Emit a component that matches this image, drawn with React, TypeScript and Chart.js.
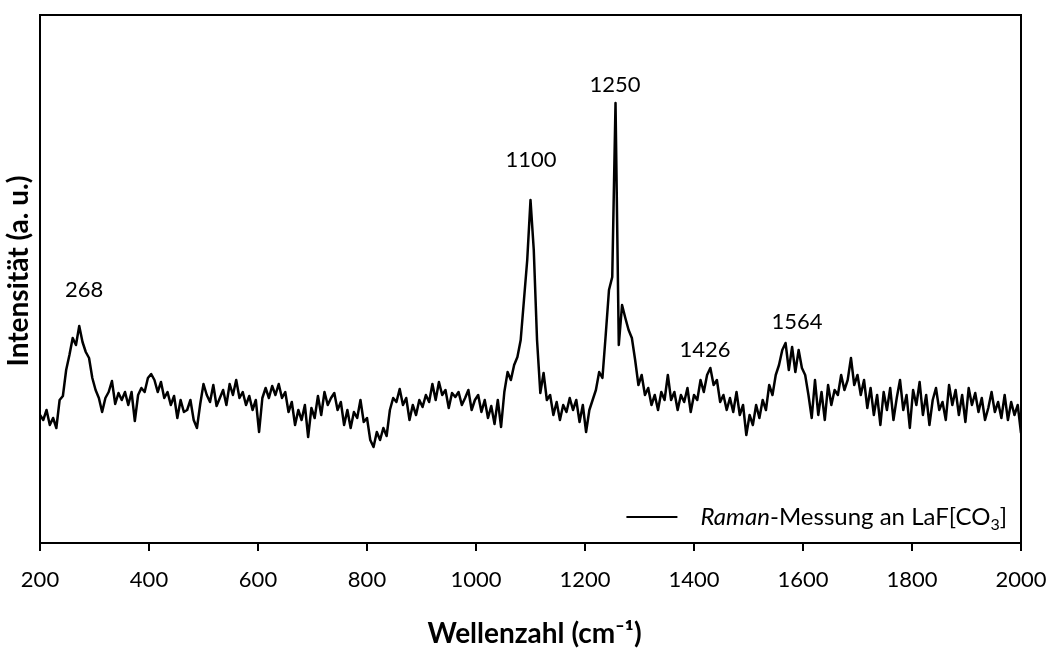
import { useEffect, useRef } from "react";
import { Chart, registerables } from "chart.js";

Chart.register(...registerables);

const WAVENUMBER_START = 200;
const WAVENUMBER_STEP = 6;
const INTENSITY = [
  128, 123, 133, 118, 125, 115, 143, 147, 173, 188,
  205, 198, 217, 201, 191, 185, 165, 153, 145, 131,
  145, 151, 162, 139, 150, 143, 151, 138, 151, 122,
  148, 155, 151, 165, 169, 163, 151, 161, 145, 151,
  138, 147, 125, 143, 131, 133, 143, 123, 115, 139,
  159, 148, 141, 158, 137, 145, 153, 138, 159, 148,
  163, 145, 151, 138, 147, 133, 143, 111, 145, 155,
  145, 157, 148, 159, 145, 151, 131, 141, 118, 133,
  123, 138, 106, 135, 125, 147, 128, 151, 138, 145,
  150, 133, 141, 118, 133, 115, 131, 125, 143, 121,
  125, 103, 96, 111, 103, 115, 107, 133, 145, 141,
  154, 138, 145, 123, 138, 128, 143, 136, 148, 141,
  159, 143, 161, 148, 153, 135, 150, 146, 151, 138,
  145, 153, 133, 143, 148, 131, 143, 125, 137, 119,
  143, 116, 151, 171, 163, 178, 186, 203, 243, 283,
  343, 293, 203, 150, 170, 143, 148, 128, 141, 123,
  138, 131, 145, 133, 143, 121, 138, 111, 133, 143,
  153, 171, 165, 208, 253, 266, 440, 198, 238, 225,
  213, 205, 183, 158, 168, 148, 155, 138, 148, 133,
  151, 143, 168, 143, 151, 133, 148, 141, 155, 131,
  148, 143, 163, 151, 168, 175, 158, 163, 141, 148,
  133, 145, 131, 151, 128, 138, 108, 128, 118, 138,
  125, 143, 133, 158, 148, 168, 178, 193, 200, 173,
  196, 171, 193, 175, 168, 148, 125, 163, 128, 151,
  123, 158, 138, 153, 148, 168, 153, 163, 185, 158,
  168, 148, 163, 135, 155, 128, 148, 118, 151, 133,
  155, 123, 145, 163, 133, 148, 115, 153, 138, 161,
  128, 148, 118, 143, 155, 133, 141, 123, 158, 138,
  153, 128, 148, 121, 155, 138, 150, 131, 145, 123,
  135, 151, 131, 141, 125, 148, 123, 141, 128, 138,
  110,
];

const X_MIN = 200;
const X_MAX = 2000;
const X_STEP = 200;
const Y_MIN = 0;
const Y_MAX = 528;

const PEAK_LABELS = ["268", "1100", "1250", "1426", "1564"];
const PEAK_LABEL_X = [281, 1101, 1255, 1420, 1589];
const PEAK_LABEL_Y = [253, 383, 458, 193, 221];

const X_TITLE = "Wellenzahl (cm⁻¹)";
const Y_TITLE = "Intensität (a. u.)";
const LEGEND_ITALIC = "Raman";
const LEGEND_MAIN = "-Messung an LaF[CO";
const LEGEND_SUB = "3";
const LEGEND_END = "]";

const FONT = "Lato";

const overlayPlugin = {
  id: "overlay",
  afterDraw(chart: any) {
    const { ctx, chartArea, scales } = chart;
    const { left, right, top, bottom } = chartArea;
    ctx.save();
    // frame
    ctx.strokeStyle = "#000";
    ctx.lineWidth = 2;
    ctx.strokeRect(left, top, right - left, bottom - top);

    // peak labels
    ctx.fillStyle = "#000";
    ctx.font = `22px ${FONT}`;
    ctx.textAlign = "center";
    ctx.textBaseline = "middle";
    PEAK_LABELS.forEach((t, i) => {
      const x = scales.x.getPixelForValue(PEAK_LABEL_X[i]);
      const y = scales.y.getPixelForValue(PEAK_LABEL_Y[i]);
      ctx.fillText(t, x, y);
    });

    // x title
    ctx.font = `bold 28px ${FONT}`;
    ctx.fillText(X_TITLE, (left + right) / 2 + 4, 634);

    // y title
    ctx.save();
    ctx.translate(19, (top + bottom) / 2 - 8);
    ctx.rotate(-Math.PI / 2);
    ctx.fillText(Y_TITLE, 0, 0);
    ctx.restore();

    // legend
    const yMid = bottom - 26;
    const fItal = `italic 24px ${FONT}`;
    const fMain = `24px ${FONT}`;
    const fSub = `16px ${FONT}`;
    ctx.font = fItal;
    const wItal = ctx.measureText(LEGEND_ITALIC).width;
    ctx.font = fMain;
    const wMain = ctx.measureText(LEGEND_MAIN).width;
    const wEnd = ctx.measureText(LEGEND_END).width;
    ctx.font = fSub;
    const wSub = ctx.measureText(LEGEND_SUB).width;
    const total = wItal + wMain + wSub + wEnd;
    let x = right - 14 - total;
    const lineEnd = x - 23;
    ctx.beginPath();
    ctx.moveTo(lineEnd - 51, yMid);
    ctx.lineTo(lineEnd, yMid);
    ctx.lineWidth = 2;
    ctx.stroke();
    ctx.textAlign = "left";
    ctx.textBaseline = "alphabetic";
    const base = yMid + 8;
    ctx.font = fItal;
    ctx.fillText(LEGEND_ITALIC, x, base);
    x += wItal;
    ctx.font = fMain;
    ctx.fillText(LEGEND_MAIN, x, base);
    x += wMain;
    ctx.font = fSub;
    ctx.fillText(LEGEND_SUB, x, base + 5);
    x += wSub;
    ctx.font = fMain;
    ctx.fillText(LEGEND_END, x, base);
    ctx.restore();
  },
};

export default function App() {
  const ref = useRef<HTMLCanvasElement | null>(null);
  useEffect(() => {
    if (!ref.current) return;
    const points = INTENSITY.map((v, i) => ({ x: WAVENUMBER_START + i * WAVENUMBER_STEP, y: v }));
    const chart = new Chart(ref.current, {
      type: "line",
      data: {
        datasets: [
          {
            label: LEGEND_ITALIC + LEGEND_MAIN + LEGEND_SUB + LEGEND_END,
            data: points,
            borderColor: "#000",
            backgroundColor: "#000",
            borderWidth: 2.5,
            pointRadius: 0,
            tension: 0,
            borderJoinStyle: "round",
          },
        ],
      },
      options: {
        responsive: false,
        animation: false,
        layout: { padding: { left: 40, right: 30, top: 15, bottom: 0 } },
        plugins: { legend: { display: false }, tooltip: { enabled: false } },
        scales: {
          x: {
            type: "linear",
            min: X_MIN,
            max: X_MAX,
            afterFit: (scale: any) => {
              scale.height = 105;
              scale.paddingLeft = 0;
              scale.paddingRight = 0;
            },
            ticks: {
              stepSize: X_STEP,
              color: "#000",
              padding: 16,
              maxRotation: 0,
              font: { family: FONT, size: 22 },
              callback: (v: any) => String(v),
            },
            grid: {
              display: true,
              drawOnChartArea: false,
              drawTicks: true,
              tickLength: 8,
              color: "#000",
              lineWidth: 2,
            },
            border: { display: true, color: "#000", width: 2 },
          },
          y: {
            display: false,
            min: Y_MIN,
            max: Y_MAX,
          },
        },
      },
      plugins: [overlayPlugin],
    });
    return () => chart.destroy();
  }, []);
  return (
    <div style={{ position: "absolute", left: 0, top: 0, width: 1051, height: 648, background: "#fff" }}>
      <canvas ref={ref} width={1051} height={648} style={{ display: "block" }} />
    </div>
  );
}
